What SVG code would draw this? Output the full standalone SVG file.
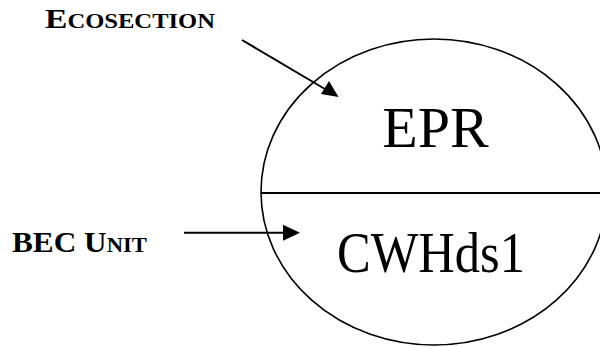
<svg xmlns="http://www.w3.org/2000/svg" width="600" height="347" viewBox="0 0 600 347">
<defs>
<style>
.lbl{font-family:"Liberation Serif","Times New Roman",serif;font-weight:bold;fill:#000}
.cap{font-size:28px}
.sc{font-size:20.5px}
.cap2{font-size:29px}
.sc2{font-size:21px}
.big{font-family:"Liberation Serif","Times New Roman",serif;fill:#000;font-size:58px}
.conn{stroke:#000;stroke-width:2;fill:none}
</style>
</defs>
<rect width="600" height="347" fill="#fff"/>
<g id="ellipse-node">
<ellipse cx="434" cy="192" rx="173" ry="153" fill="none" stroke="#000" stroke-width="1.6"/>
<line x1="261" y1="193" x2="600" y2="193" stroke="#000" stroke-width="2"/>
<text class="big" x="435.5" y="147" text-anchor="middle">EPR</text>
<text class="big" x="337" y="271.5" textLength="188" lengthAdjust="spacingAndGlyphs">CWHds1</text>
</g>
<g id="ecosection">
<text class="lbl" x="45" y="27.5" textLength="170" lengthAdjust="spacingAndGlyphs"><tspan class="cap">E</tspan><tspan class="sc">COSECTION</tspan></text>
</g>
<g id="bec-unit">
<text class="lbl" x="12" y="251.5" textLength="135" lengthAdjust="spacingAndGlyphs"><tspan class="cap2">BEC U</tspan><tspan class="sc2">NIT</tspan></text>
</g>
<g id="connectors">
<line class="conn" x1="242" y1="40" x2="330" y2="92"/>
<path d="M338.5,97 L321,94 L329,81 z" fill="#000"/>
<line class="conn" x1="184" y1="232.7" x2="284" y2="232.7"/>
<path d="M300,232.7 L283,224.7 L283,240.7 z" fill="#000"/>
</g>
</svg>
